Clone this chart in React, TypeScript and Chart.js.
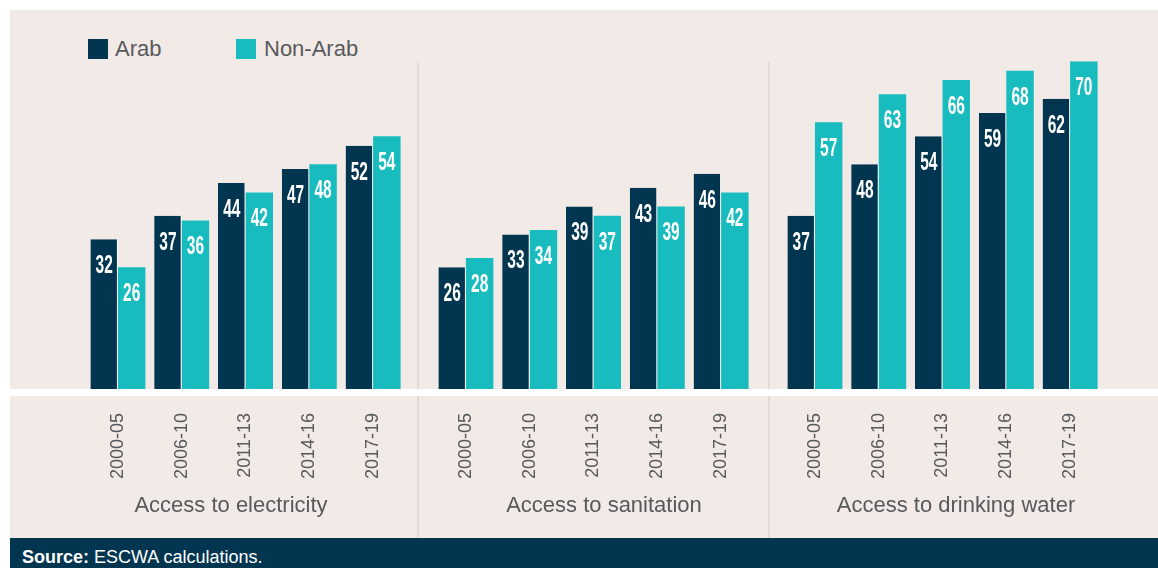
import React, { useEffect, useRef } from "react";
import { Chart, registerables } from "chart.js";

Chart.register(...registerables);

// ---- data ----
const periods = ["2000-05", "2006-10", "2011-13", "2014-16", "2017-19"];
const panelTitles = ["Access to electricity", "Access to sanitation", "Access to drinking water"];
const seriesNames = ["Arab", "Non-Arab"];
const electricityArab = [32, 37, 44, 47, 52];
const electricityNonArab = [26, 36, 42, 48, 54];
const sanitationArab = [26, 33, 39, 43, 46];
const sanitationNonArab = [28, 34, 37, 39, 42];
const waterArab = [37, 48, 54, 59, 62];
const waterNonArab = [57, 63, 66, 68, 70];
const yMax = 75;

// ---- style ----
const NAVY = "#02354f";
const TEAL = "#19bcbe";
const PANEL = "#f2eae7";
const GREY = "#58595b";
const SEP = "#e4d9d4";
const SANS = "'Liberation Sans', Arial, sans-serif";

const valueLabels = {
  id: "valueLabels",
  afterDatasetsDraw(chart: any) {
    const ctx = chart.ctx;
    chart.data.datasets.forEach((ds: any, di: number) => {
      const meta = chart.getDatasetMeta(di);
      meta.data.forEach((el: any, i: number) => {
        ctx.save();
        ctx.fillStyle = "#ffffff";
        ctx.font = `bold 25px ${SANS}`;
        ctx.textAlign = "center";
        ctx.textBaseline = "middle";
        ctx.translate(el.x, el.y + 27);
        ctx.scale(0.62, 1);
        ctx.fillText(String(ds.data[i]), 0, 0);
        ctx.restore();
      });
    });
  },
};

function Panel({ arab, nonArab, left }: { arab: number[]; nonArab: number[]; left: number }) {
  const ref = useRef<HTMLCanvasElement | null>(null);
  useEffect(() => {
    if (!ref.current) return;
    const chart = new Chart(ref.current, {
      type: "bar",
      data: {
        labels: periods,
        datasets: [
          {
            label: seriesNames[0],
            data: arab,
            backgroundColor: NAVY,
            borderColor: "#ffffff",
            borderWidth: { top: 0, left: 0, bottom: 0, right: 1 },
            borderSkipped: false,
            categoryPercentage: 0.862,
            barPercentage: 1,
          },
          {
            label: seriesNames[1],
            data: nonArab,
            backgroundColor: TEAL,
            borderWidth: 0,
            categoryPercentage: 0.862,
            barPercentage: 1,
          },
        ],
      },
      options: {
        responsive: false,
        animation: false,
        layout: { padding: { top: 38, bottom: 0, left: 0, right: 0 } },
        plugins: { legend: { display: false }, tooltip: { enabled: false } },
        scales: {
          x: {
            grid: { display: false },
            border: { display: false },
            ticks: {
              minRotation: 90,
              maxRotation: 90,
              autoSkip: false,
              padding: 16,
              color: GREY,
              font: { family: SANS, size: 18 },
            },
            afterFit: (s: any) => {
              s.height = 148;
              s.paddingLeft = 0;
              s.paddingRight = 0;
            },
          },
          y: { display: false, min: 0, max: yMax },
        },
      },
      plugins: [valueLabels],
    } as any);
    return () => chart.destroy();
  }, [arab, nonArab]);
  return (
    <canvas
      ref={ref}
      width={319}
      height={537}
      style={{ position: "absolute", left, top: 0, width: 319, height: 537 }}
    />
  );
}

const titleCenters = [231, 604, 956];

export default function App() {
  return (
    <div style={{ position: "absolute", left: 0, top: 0, width: 1158, height: 568, overflow: "hidden", background: "#ffffff", fontFamily: SANS }}>
      <div style={{ position: "absolute", left: 10, top: 10, width: 1148, height: 379, background: PANEL }} />
      <div style={{ position: "absolute", left: 10, top: 396, width: 1148, height: 142, background: PANEL }} />
      <div style={{ position: "absolute", left: 416.5, top: 62, width: 2.5, height: 327, background: SEP }} />
      <div style={{ position: "absolute", left: 416.5, top: 396, width: 2.5, height: 142, background: SEP }} />
      <div style={{ position: "absolute", left: 767.5, top: 62, width: 2.5, height: 327, background: SEP }} />
      <div style={{ position: "absolute", left: 767.5, top: 396, width: 2.5, height: 142, background: SEP }} />
      <div style={{ position: "absolute", left: 10, top: 538, width: 1148, height: 30, background: NAVY }} />

      {/* legend */}
      <div style={{ position: "absolute", left: 88, top: 39, width: 20, height: 20, background: NAVY }} />
      <div style={{ position: "absolute", left: 115, top: 36, fontSize: 22, lineHeight: "25px", color: GREY, whiteSpace: "nowrap" }}>{seriesNames[0]}</div>
      <div style={{ position: "absolute", left: 236, top: 39, width: 20, height: 20, background: TEAL }} />
      <div style={{ position: "absolute", left: 264, top: 36, fontSize: 22, lineHeight: "25px", color: GREY, whiteSpace: "nowrap" }}>{seriesNames[1]}</div>

      <Panel arab={electricityArab} nonArab={electricityNonArab} left={86} />
      <Panel arab={sanitationArab} nonArab={sanitationNonArab} left={434} />
      <Panel arab={waterArab} nonArab={waterNonArab} left={783} />

      {panelTitles.map((t, i) => (
        <div key={t} style={{ position: "absolute", left: titleCenters[i] - 200, width: 400, top: 492, textAlign: "center", fontSize: 22, lineHeight: "25px", color: GREY, whiteSpace: "nowrap" }}>{t}</div>
      ))}

      <div style={{ position: "absolute", left: 22, top: 547, fontSize: 18, lineHeight: "20px", color: "#ffffff", whiteSpace: "nowrap" }}>
        <b>Source:</b> ESCWA calculations.
      </div>
    </div>
  );
}
